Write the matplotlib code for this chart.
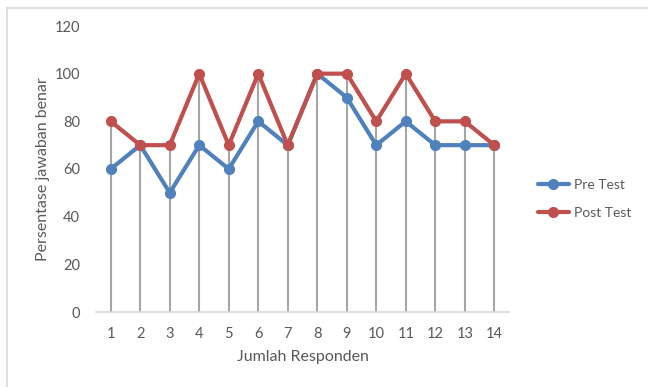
import matplotlib
matplotlib.use("Agg")
import matplotlib.pyplot as plt
from matplotlib.lines import Line2D
import numpy as np

plt.rcParams['font.family'] = ['Lato', 'DejaVu Sans']

# Scores per respondent, in percent
respondents = list(range(1, 15))
pre_test = [60, 70, 50, 70, 60, 80, 70, 100, 90, 70, 80, 70, 70, 70]
post_test = [80, 70, 70, 100, 70, 100, 70, 100, 100, 80, 100, 80, 80, 70]
y_ticks = [0, 20, 40, 60, 80, 100, 120]

blue = '#4F81BD'
red = '#C0504D'
text_grey = '#595959'

W, H = 648, 387
fig = plt.figure(figsize=(W / 100, H / 100), dpi=100, facecolor='white')
# plot area in pixel units
left, right, top, bottom = 96, 509, 26, 312
aw, ah = right - left, bottom - top
ax = fig.add_axes([left / W, 1 - bottom / H, aw / W, ah / H])

x = np.arange(len(respondents))

# drop lines from the higher of the two series down to the axis
tops = np.maximum(pre_test, post_test)
ax.vlines(x, 0, tops, color='#A6A6A6', linewidth=1.5, zorder=1)

ax.plot(x, pre_test, color=blue, linewidth=3, marker='o', markersize=7,
        solid_capstyle='round', label='Pre Test', zorder=3)
ax.plot(x, post_test, color=red, linewidth=3, marker='o', markersize=7,
        solid_capstyle='round', label='Post Test', zorder=4)

ax.set_xlim(-0.5, len(respondents) - 0.5)
ax.set_ylim(0, 120)
ax.set_xticks(x)
ax.set_xticklabels([str(r) for r in respondents])
ax.set_yticks(y_ticks)

for side in ['top', 'right', 'left']:
    ax.spines[side].set_visible(False)
ax.spines['bottom'].set_color('#D9D9D9')
ax.spines['bottom'].set_linewidth(1.2)
ax.tick_params(axis='both', length=0, labelsize=10.5, labelcolor=text_grey)
ax.tick_params(axis='x', pad=11)
ax.tick_params(axis='y', pad=11.5)

ax.set_xlabel('Jumlah Responden', fontsize=11.5, color=text_grey, va='center')
ax.set_ylabel('Persentase jawaban benar', fontsize=11.5, color=text_grey, va='center')
ax.xaxis.set_label_coords(0.5, (bottom - 357) / ah)
ax.yaxis.set_label_coords((43 - left) / aw, 0.5)

leg = fig.legend(loc='center left', bbox_to_anchor=(525 / W, 1 - 199 / H),
                 frameon=False, fontsize=10, labelcolor=text_grey,
                 handlelength=2.3, handletextpad=0.3, labelspacing=1.2)

# chart frame (left and top edges)
fig.add_artist(Line2D([7 / W, 7 / W], [0, 1 - 8 / H], transform=fig.transFigure,
                      color='#D9D9D9', linewidth=1.2))
fig.add_artist(Line2D([7 / W, 1], [1 - 8 / H, 1 - 8 / H], transform=fig.transFigure,
                      color='#D9D9D9', linewidth=1.2))

fig.savefig('out.png', dpi=100, facecolor='white')
